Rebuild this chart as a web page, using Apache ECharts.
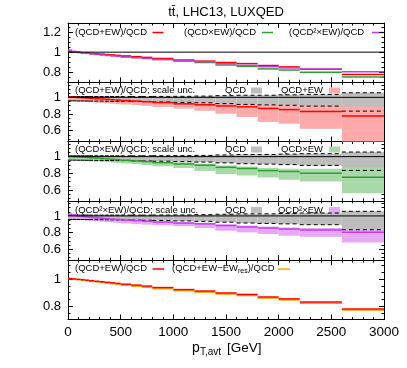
<!DOCTYPE html>
<html><head><meta charset="utf-8">
<script src="https://cdn.jsdelivr.net/npm/echarts@6/dist/echarts.min.js"></script>
<style>html,body{margin:0;padding:0;background:#fff}#c{width:407px;height:368px}</style>
</head><body><div id="c"></div>
<script>
// ---- data ----
const edges = [0,40,80,120,160,200,250,300,350,400,450,500,600,700,800,1000,1200,1400,1600,1800,2000,2200,2600,3000];
const ratioQcdPlusEw = [1.004,1.001,0.998,0.995,0.992,0.988,0.984,0.98,0.976,0.972,0.968,0.962,0.955,0.948,0.937,0.922,0.911,0.897,0.886,0.867,0.853,0.829,0.778];
const ratioQcdTimesEw = [1.003,1.0,0.997,0.993,0.99,0.986,0.982,0.977,0.973,0.968,0.964,0.957,0.948,0.94,0.928,0.912,0.897,0.872,0.858,0.833,0.822,0.801,0.752];
const ratioQcd2TimesEw = [1.02,1.008,1.0,0.993,0.988,0.982,0.977,0.972,0.967,0.962,0.958,0.951,0.944,0.937,0.926,0.914,0.905,0.885,0.868,0.855,0.843,0.832,0.805];
const ratioNoRes = [1.003,0.999,0.995,0.991,0.988,0.983,0.979,0.974,0.97,0.966,0.961,0.955,0.947,0.94,0.929,0.914,0.903,0.889,0.878,0.859,0.845,0.82,0.771];
const qcdLow = [0.958,0.958,0.957,0.957,0.956,0.956,0.955,0.955,0.954,0.953,0.953,0.952,0.95,0.948,0.945,0.94,0.935,0.925,0.915,0.91,0.905,0.895,0.835];
const qcdHigh = [1.01,1.01,1.01,1.01,1.01,1.01,1.01,1.01,1.01,1.01,1.01,1.01,1.01,1.01,1.011,1.012,1.015,1.02,1.025,1.025,1.03,1.035,1.055];
const plusLow = [0.955,0.953,0.95,0.947,0.944,0.94,0.936,0.932,0.928,0.924,0.92,0.914,0.906,0.898,0.886,0.866,0.84,0.805,0.765,0.705,0.685,0.625,0.44];
const plusHigh = [1.006,1.003,1.0,0.998,0.996,0.993,0.99,0.987,0.984,0.981,0.978,0.974,0.969,0.964,0.957,0.948,0.94,0.93,0.918,0.91,0.905,0.9,0.89];
const timesLow = [0.957,0.955,0.953,0.95,0.947,0.943,0.94,0.936,0.932,0.928,0.924,0.918,0.91,0.9,0.885,0.863,0.83,0.79,0.775,0.75,0.723,0.703,0.562];
const timesHigh = [1.006,1.003,1.0,0.997,0.994,0.99,0.987,0.983,0.979,0.975,0.971,0.965,0.958,0.951,0.94,0.93,0.917,0.895,0.882,0.866,0.856,0.855,0.87];
const sqLow = [0.975,0.965,0.958,0.952,0.947,0.942,0.937,0.932,0.927,0.922,0.917,0.91,0.902,0.895,0.888,0.878,0.855,0.823,0.803,0.783,0.763,0.75,0.683];
const sqHigh = [1.025,1.015,1.008,1.002,0.997,0.991,0.986,0.981,0.976,0.971,0.967,0.96,0.953,0.946,0.936,0.925,0.918,0.9,0.885,0.873,0.862,0.855,0.84];
const yMajor = [[0.8,1,1.2],[0.6,0.8,1],[0.6,0.8,1],[0.6,0.8,1],[0.8,1]];
const yMinor = [
  [0.7,0.75,0.85,0.9,0.95,1.05,1.1,1.15,1.25],
  [0.5,0.55,0.65,0.7,0.75,0.85,0.9,0.95,1.05,1.1,1.15],
  [0.5,0.55,0.65,0.7,0.75,0.85,0.9,0.95,1.05,1.1,1.15],
  [0.5,0.55,0.65,0.7,0.75,0.85,0.9,0.95,1.05,1.1,1.15],
  [0.7,0.75,0.85,0.9,0.95,1.05,1.1]
];
const yRange = [[0.7,1.29],[0.47,1.18],[0.47,1.18],[0.47,1.18],[0.7,1.14]];

// ---- layout ----
const FONT = 'Liberation Sans, Arial, sans-serif';
const tops = [23, 82.3, 141.6, 200.9, 260.2];
const H = 59.3, L = 68, R = 23;
const RED='#ff0000', GREEN='#2ca02c', PURPLE='#c03cf0', ORANGE='#ffa500';
const PINK='#ffaaaa', LGREEN='#a9d9a9', LPURPLE='#e8a8f8', GRAY='#bdbdbd';

const grid=[], xAxis=[], yAxis=[], series=[];
for (let i=0;i<5;i++){
  grid.push({left:L, right:R, top:tops[i], height:H, show:false});
  const xa = (pos, lab)=>({gridIndex:i, type:'value', min:0, max:3000, interval:500, position:pos,
    axisLine:{show:true, onZero:false, lineStyle:{color:'#000', width:1}},
    axisTick:{show:true, inside:true, length:5, lineStyle:{color:'#000'}},
    minorTick:{show:true, splitNumber:5, length:2.5, lineStyle:{color:'#000'}},
    axisLabel:{show:lab, color:'#000', fontSize:13.5, fontFamily:FONT, margin:6, formatter:(v)=>String(v)},
    splitLine:{show:false}, minorSplitLine:{show:false}});
  xAxis.push(xa('bottom', i===4), xa('top', false));
  const ya = (pos, vals, len, lab, line)=>({gridIndex:i, type:'value', min:yRange[i][0], max:yRange[i][1], position:pos,
    axisLine:{show:line, onZero:false, lineStyle:{color:'#000', width:1}},
    axisTick:{show:true, inside:true, length:len, customValues:vals, lineStyle:{color:'#000'}},
    axisLabel:{show:lab, customValues:vals, color:'#000', fontSize:13, fontFamily:FONT, margin:7, formatter:(v)=>String(v)},
    splitLine:{show:false}});
  yAxis.push(ya('left', yMajor[i], 5, true, true), ya('left', yMinor[i], 2.5, false, false),
             ya('right', yMajor[i], 5, false, true), ya('right', yMinor[i], 2.5, false, false));
}

function bandSeries(i, lo, hi, color){
  return {type:'custom', xAxisIndex:2*i, yAxisIndex:4*i, silent:true, animation:false,
    data: lo.map((l,k)=>[edges[k], edges[k+1], l, hi[k]]),
    encode:{x:[0,1], y:[2,3]},
    renderItem:(p, api)=>{
      const a = api.coord([api.value(0), api.value(3)]);
      const b = api.coord([api.value(1), api.value(2)]);
      const cs = p.coordSys;
      const shape = echarts.graphic.clipRectByRect(
        {x:a[0], y:a[1], width:b[0]-a[0], height:b[1]-a[1]},
        {x:cs.x, y:cs.y, width:cs.width, height:cs.height});
      return shape ? {type:'rect', shape, style:{fill:color}} : null;
    }};
}
function stepSeries(i, vals, color, width, dash){
  return {type:'custom', xAxisIndex:2*i, yAxisIndex:4*i, silent:true, animation:false,
    data: vals.map((v,k)=>[edges[k], edges[k+1], v]),
    encode:{x:[0,1], y:2},
    renderItem:(p, api)=>{
      const a = api.coord([api.value(0), api.value(2)]);
      const b = api.coord([api.value(1), api.value(2)]);
      return {type:'line', shape:{x1:a[0], y1:a[1], x2:b[0], y2:b[1]},
        style:{stroke:color, lineWidth:width, lineDash:dash||null}};
    }};
}
function unitLine(i){
  return {type:'line', xAxisIndex:2*i, yAxisIndex:4*i, silent:true, animation:false, symbol:'none',
    data:[[0,1],[3000,1]], lineStyle:{color:'#000', width:1}};
}

// panel 1
series.push(unitLine(0), stepSeries(0, ratioQcdTimesEw, GREEN, 1.5), stepSeries(0, ratioQcdPlusEw, RED, 1.5), stepSeries(0, ratioQcd2TimesEw, PURPLE, 1.5));
// panels 2-4
const bands = [[plusLow, plusHigh, PINK, ratioQcdPlusEw, RED],[timesLow, timesHigh, LGREEN, ratioQcdTimesEw, GREEN],[sqLow, sqHigh, LPURPLE, ratioQcd2TimesEw, PURPLE]];
bands.forEach((b, j)=>{
  const i = j+1;
  series.push(bandSeries(i, qcdLow, qcdHigh, GRAY), bandSeries(i, b[0], b[1], b[2]),
    stepSeries(i, qcdLow, '#000', 1, [4,3]), stepSeries(i, qcdHigh, '#000', 1, [4,3]),
    unitLine(i), stepSeries(i, b[3], b[4], 1.5));
});
// panel 5
series.push(stepSeries(4, ratioNoRes, ORANGE, 1.5), stepSeries(4, ratioQcdPlusEw, RED, 1.5));

// ---- legends / texts ----
const g = [];
function txt(x, y, s, size, align, rich){
  g.push({type:'text', x, y, silent:true, style:{text:s, fontSize:size||9.5, fontFamily:FONT, fill:'#000',
    align:align||'left', verticalAlign:'middle', rich:rich}});
}
function sample(x1, x2, y, color){ g.push({type:'line', silent:true, shape:{x1, y1:y, x2, y2:y}, style:{stroke:color, lineWidth:1.5}}); }
function box(x, y, color){ g.push({type:'rect', silent:true, shape:{x, y:y-3, width:11, height:6}, style:{fill:color}}); }

txt(226, 12, 'tt\u0304, LHC13, LUXQED', 13, 'center');
// panel 1
txt(75, 32.5, '(QCD+EW)/QCD'); sample(152.5, 163.5, 32.5, RED);
txt(184, 32.5, '(QCD\u00d7EW)/QCD'); sample(262, 273, 32.5, GREEN);
txt(289, 32.5, '(QCD\u00b2\u00d7EW)/QCD'); sample(372, 383.5, 32.5, PURPLE);
// panels 2-4
const legY = [90.5, 149.5, 210];
const legA = ['(QCD+EW)/QCD; scale unc.', '(QCD\u00d7EW)/QCD; scale unc.', '(QCD\u00b2\u00d7EW)/QCD; scale unc.'];
const legB = ['QCD+EW', 'QCD\u00d7EW', 'QCD\u00b2\u00d7EW'];
const legC = [PINK, LGREEN, LPURPLE];
for (let j=0;j<3;j++){
  txt(75, legY[j], legA[j]);
  txt(225, legY[j], 'QCD'); box(251, legY[j], GRAY);
  txt(323, legY[j], legB[j], 9.5, 'right'); box(329, legY[j], legC[j]);
}
// panel 5
txt(75, 268.5, '(QCD+EW)/QCD'); sample(152.5, 164, 269, RED);
txt(172, 268.5, '{a|(QCD+EW\u2212EW}{b|res}{a|)/QCD}', 9.5, 'left',
  {a:{fontSize:9.5, fontFamily:FONT, lineHeight:13, verticalAlign:'middle'}, b:{fontSize:7, fontFamily:FONT, lineHeight:13, verticalAlign:'bottom'}});
sample(278, 290, 269, ORANGE);
// x axis title
txt(192, 348.5, 'p', 14);
txt(200, 352, 'T,avt', 10);
txt(227, 348, '[GeV]', 13.5);

const chart = echarts.init(document.getElementById('c'), null, {renderer:'canvas'});
chart.setOption({animation:false, backgroundColor:'#fff', grid, xAxis, yAxis, series, graphic:g});
</script></body></html>
